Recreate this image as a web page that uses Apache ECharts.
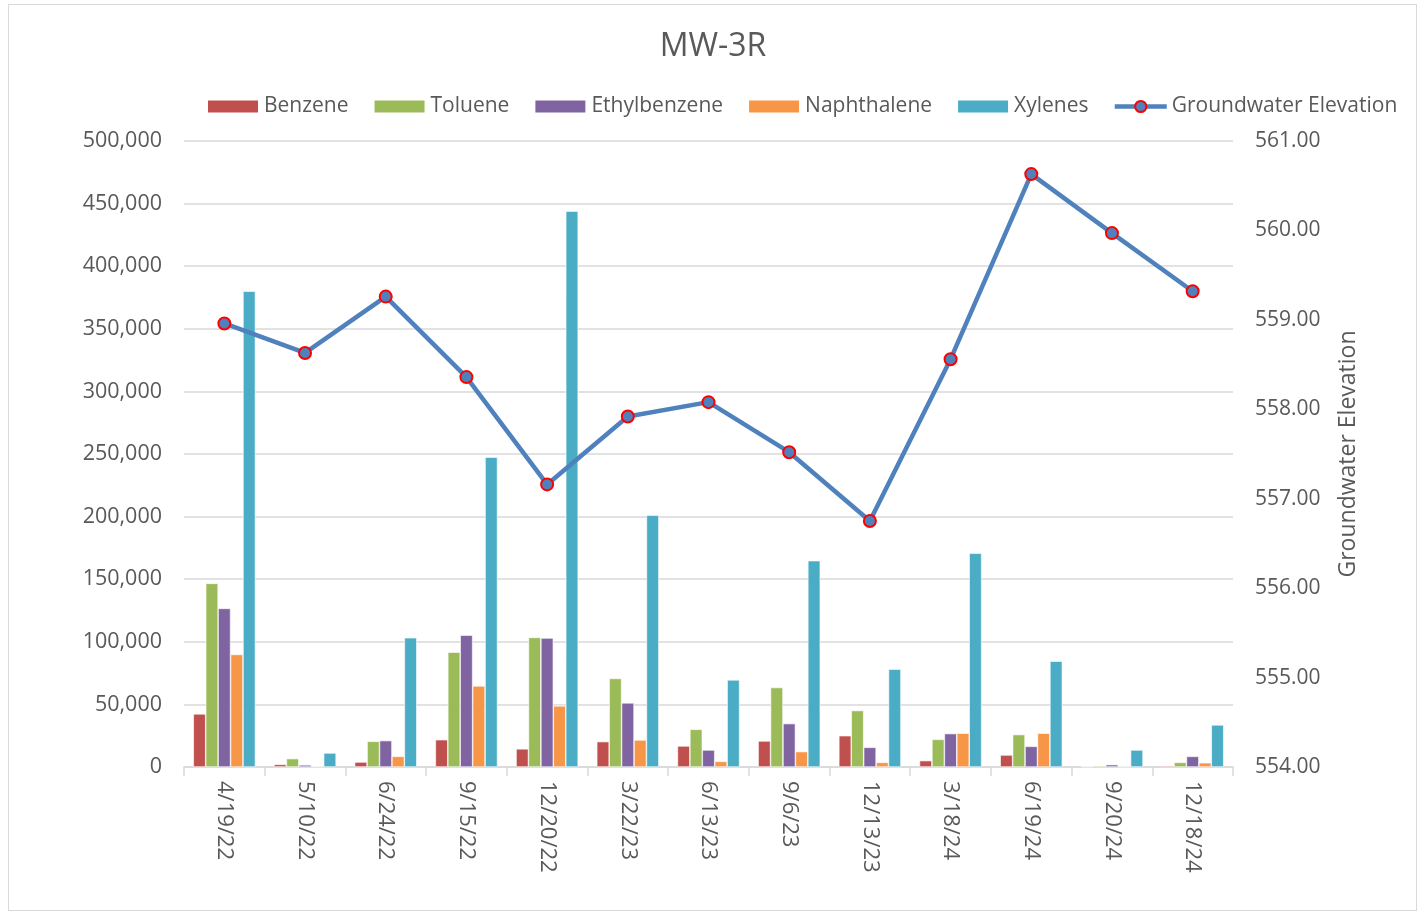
<!DOCTYPE html>
<html>
<head>
<meta charset="utf-8">
<script src="https://cdn.jsdelivr.net/npm/echarts@6/dist/echarts.min.js"></script>
<style>
  html, body { margin: 0; padding: 0; background: #fff; }
  #frame { position: absolute; left: 8px; top: 4px; width: 1407px; height: 905px; border: 1px solid #d9d9d9; }
  #chart { position: absolute; left: 0; top: 0; width: 1426px; height: 913px; }
</style>
</head>
<body>
<div id="frame"></div>
<div id="chart"></div>
<script>
// sample dates
var dates = ['4/19/22', '5/10/22', '6/24/22', '9/15/22', '12/20/22', '3/22/23', '6/13/23',
  '9/6/23', '12/13/23', '3/18/24', '6/19/24', '9/20/24', '12/18/24'];

// concentrations
var benzene      = [42400, 2100, 4000, 21800, 14500, 20300, 16800, 20800, 25000, 5100, 9600, 500, 1000];
var toluene      = [146700, 6700, 20500, 91700, 103500, 70700, 30100, 63500, 45100, 22100, 25900, 1000, 3700];
var ethylbenzene = [126700, 1700, 21100, 105300, 103000, 51200, 13600, 34700, 15700, 26700, 16500, 1900, 8500];
var naphthalene  = [89900, 500, 8500, 64800, 48800, 21600, 4500, 12300, 3700, 27000, 27000, 300, 3400];
var xylenes      = [380000, 11200, 103200, 247500, 444000, 201100, 69600, 164800, 78100, 170700, 84500, 13600, 33600];

// groundwater elevation (right axis)
var gwElev = [558.96, 558.63, 559.26, 558.36, 557.16, 557.92, 558.08, 557.52, 556.75, 558.56, 560.63, 559.97, 559.32];

var txt = '#595959';
var font = '"Open Sans", "Noto Sans", sans-serif';

var chart = echarts.init(document.getElementById('chart'));

function barSeries(name, data, color) {
  return {
    name: name,
    type: 'bar',
    data: data,
    barGap: '0%',
    barCategoryGap: '23%',
    itemStyle: { color: color, borderColor: '#ffffff', borderWidth: 0.6 }
  };
}

var option = {
  animation: false,
  textStyle: { fontFamily: font },
  title: {
    text: 'MW-3R',
    left: 'center',
    top: 26,
    textStyle: { fontFamily: font, fontSize: 32, fontWeight: 'normal', color: txt }
  },
  legend: {
    top: 91,
    left: 201,
    itemWidth: 52,
    itemHeight: 14,
    itemGap: 24,
    textStyle: { fontFamily: font, fontSize: 21, color: txt },
    data: [
      { name: 'Benzene', icon: 'rect' },
      { name: 'Toluene', icon: 'rect' },
      { name: 'Ethylbenzene', icon: 'rect' },
      { name: 'Naphthalene', icon: 'rect' },
      { name: 'Xylenes', icon: 'rect' },
      { name: 'Groundwater Elevation', lineStyle: { width: 4.5 } }
    ]
  },
  grid: { left: 184, right: 193, top: 141, bottom: 146 },
  xAxis: {
    type: 'category',
    data: dates,
    axisLine: { lineStyle: { color: '#d9d9d9', width: 1.5 } },
    axisTick: { show: true, length: 9, lineStyle: { color: '#d9d9d9', width: 1.5 } },
    axisLabel: { rotate: -90, fontSize: 22, color: txt, margin: 14, fontFamily: font }
  },
  yAxis: [{
    type: 'value',
    min: 0,
    max: 500000,
    interval: 50000,
    axisLine: { show: false },
    axisTick: { show: false },
    splitLine: { lineStyle: { color: '#d9d9d9', width: 1.5 } },
    axisLabel: {
      fontSize: 21.5, color: txt, margin: 22, fontFamily: font,
      formatter: function (v) { return v.toLocaleString('en-US'); }
    }
  }, {
    type: 'value',
    min: 554,
    max: 561,
    interval: 1,
    position: 'right',
    name: 'Groundwater Elevation',
    nameLocation: 'middle',
    nameRotate: 90,
    nameGap: 104,
    nameTextStyle: { fontSize: 23, color: txt, fontFamily: font },
    axisLine: { show: false },
    axisTick: { show: false },
    splitLine: { show: false },
    axisLabel: {
      fontSize: 21, color: txt, margin: 22, fontFamily: font,
      formatter: function (v) { return v.toFixed(2); }
    }
  }],
  series: [
    barSeries('Benzene', benzene, '#C0504D'),
    barSeries('Toluene', toluene, '#9BBB59'),
    barSeries('Ethylbenzene', ethylbenzene, '#8064A2'),
    barSeries('Naphthalene', naphthalene, '#F79646'),
    barSeries('Xylenes', xylenes, '#4BACC6'),
    {
      name: 'Groundwater Elevation',
      type: 'line',
      yAxisIndex: 1,
      data: gwElev,
      symbol: 'circle',
      symbolSize: 12,
      lineStyle: { color: '#4F81BD', width: 4.5 },
      itemStyle: { color: '#4F81BD', borderColor: '#FF0000', borderWidth: 2 },
      z: 5
    }
  ]
};

chart.setOption(option);
</script>
</body>
</html>
